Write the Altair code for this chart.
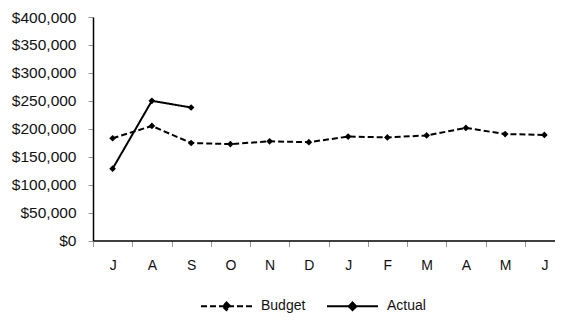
import altair as alt
import pandas as pd

months = ["J", "A", "S", "O", "N", "D", "J", "F", "M", "A", "M", "J"]
budget = [183000, 205000, 174500, 172500, 177500, 176000, 186000, 184500, 188000, 201500, 190500, 189000]
actual = [128500, 250000, 238000]
series = ["Budget", "Actual"]

rows = []
for i, v in enumerate(budget):
    rows.append({"idx": i, "series": "Budget", "value": v})
for i, v in enumerate(actual):
    rows.append({"idx": i, "series": "Actual", "value": v})
df = pd.DataFrame(rows)

label_expr = "[" + ",".join("'%s'" % m for m in months) + "][datum.value]"
FONT = "Liberation Sans"

sym_path = "M-1,0L1,0M0,-0.15L0.15,0L0,0.15L-0.15,0Z"

x = alt.X(
    "idx:O",
    scale=alt.Scale(type="band", paddingInner=0, paddingOuter=0, range=[0, 471]),
    bandPosition=0.5,
    axis=alt.Axis(
        title=None, labelExpr=label_expr, labelAngle=0, tickBand="extent",
        domainColor="#000", domainWidth=1.5, tickColor="#999", tickSize=6,
        labelFont=FONT, labelFontSize=14, labelColor="#111", labelPadding=12,
    ),
)
y = alt.Y(
    "value:Q",
    scale=alt.Scale(domain=[0, 400000], nice=False),
    axis=alt.Axis(
        title=None, format="$,.0f", values=list(range(0, 400001, 50000)), grid=False,
        domainColor="#000", domainWidth=1.5, tickColor="#999", tickSize=5,
        labelFont=FONT, labelFontSize=15.5, labelColor="#111", labelPadding=12,
    ),
)

dash = alt.StrokeDash(
    "series:N",
    scale=alt.Scale(domain=series, range=[[6, 3], [1, 0]]),
    legend=alt.Legend(
        title=None, orient="none", direction="horizontal", legendX=107, legendY=262.5,
        symbolType=sym_path, symbolSize=2601, symbolStrokeColor="#000",
        symbolFillColor="#000", symbolStrokeWidth=2, labelFont=FONT, labelFontSize=14,
        labelColor="#111", labelOffset=8, columnPadding=17, padding=0,
    ),
)

lines = alt.Chart(df).mark_line(color="#000", strokeWidth=2, strokeCap="butt").encode(
    x=x, y=y, strokeDash=dash, detail="series:N"
)
pts = alt.Chart(df).mark_point(shape="diamond", filled=True, color="#000", size=45, opacity=1).encode(
    x=x, y=y, detail="series:N"
)

chart = alt.layer(lines, pts).properties(
    width=462, height=223.5,
    autosize=alt.AutoSizeParams(type="none"),
    padding={"left": 85, "top": 9, "right": 0, "bottom": 73.5},
).configure_view(stroke=None)

chart.save("out.html", embed_options={"renderer": "svg", "actions": False})
